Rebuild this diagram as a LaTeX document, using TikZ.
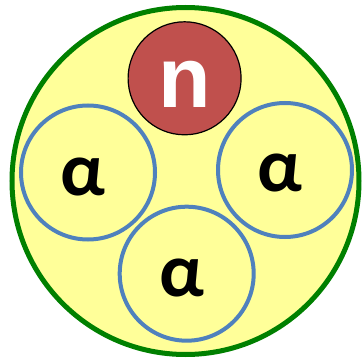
\documentclass[tikz,border=0pt]{standalone}
\usepackage{fontspec}
\setmainfont{Carlito}
\newfontfamily\nfont{Liberation Sans}
\definecolor{nucl}{HTML}{FFFF99}
\definecolor{ring}{HTML}{008000}
\definecolor{alphaline}{HTML}{4F81BD}
\definecolor{neut}{HTML}{C0504D}
\begin{document}
\begin{tikzpicture}[x=1pt,y=-1pt,
  alphacirc/.style={circle,draw=alphaline,line width=4pt,fill=nucl,minimum size=134pt,inner sep=0pt},
  alphalabel/.style={anchor=base,inner sep=0pt,font=\bfseries\fontsize{76}{76}\selectfont},
  neutcirc/.style={circle,draw=black,line width=1.2pt,fill=neut,minimum size=113pt,inner sep=0pt}]
\useasboundingbox (0,0) rectangle (362,361);
\node[circle,draw=ring,line width=5pt,fill=nucl,minimum size=347pt,inner sep=0pt] (nucleus) at (185.5,181) {};
\node[neutcirc] (n) at (184.6,78.3) {};
\node[alphacirc] (a1) at (88,172.5) {};
\node[alphacirc] (a2) at (285,170) {};
\node[alphacirc] (a3) at (186.7,273.7) {};
\node[anchor=base,inner sep=0pt,text=white,font=\nfont\bfseries\fontsize{86}{86}\selectfont] (nt) at (185,108) {n};
\node[alphalabel] (t1) at (82.5,195) {α};
\node[alphalabel] (t2) at (280,191.7) {α};
\node[alphalabel] (t3) at (182,296) {α};
\end{tikzpicture}
\end{document}
